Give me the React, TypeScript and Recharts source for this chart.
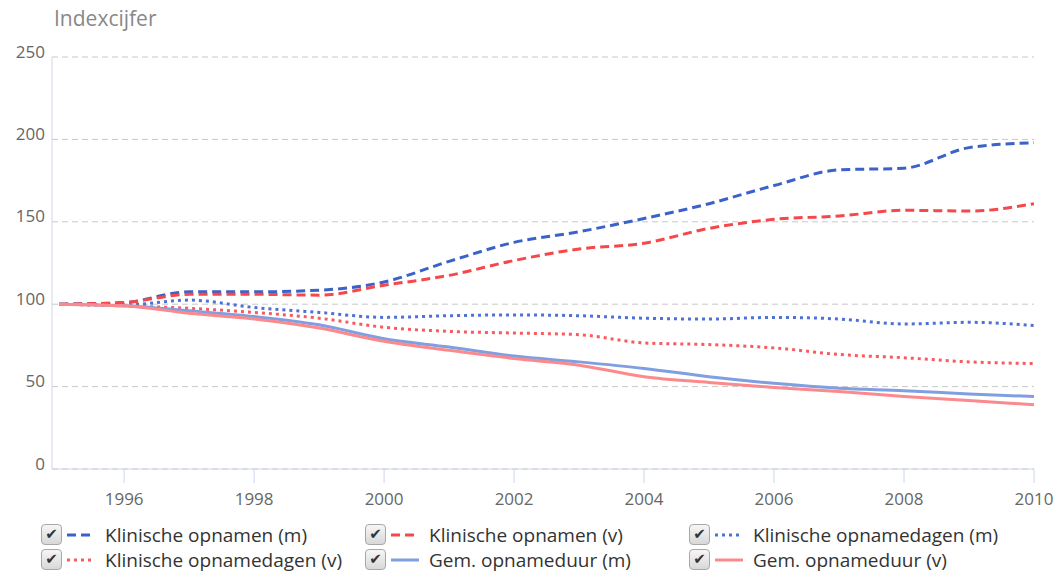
import { CartesianGrid, Legend, Line, LineChart, XAxis, YAxis } from "recharts"

const years = [1995, 1996, 1997, 1998, 1999, 2000, 2001, 2002, 2003, 2004, 2005, 2006, 2007, 2008, 2009, 2010]

const opnamenM = [100, 101, 107.5, 107.5, 108.5, 113.5, 126, 137.5, 144, 152, 161, 172, 181.5, 182.5, 195, 198]
const opnamenV = [100, 101, 106, 106, 105.5, 111.5, 117.5, 126.5, 133.5, 137, 146, 151.5, 153.5, 157, 156.5, 161]
const dagenM = [100, 99.5, 102.5, 98, 95, 92, 93, 93.5, 93, 91.5, 91, 92, 91, 88, 89, 87]
const dagenV = [100, 99, 97.5, 95, 91.5, 86, 83.5, 82.5, 81.5, 76.5, 75.5, 73.5, 69.5, 67.5, 65, 64]
const duurM = [100, 99, 96, 92.5, 87.5, 79, 74, 68.5, 65, 61, 56, 52, 49, 47.5, 45.5, 44]
const duurV = [100, 99, 94.5, 91, 85.5, 77.5, 72, 67, 63, 56, 52.5, 49.5, 47, 44, 41.5, 39]

const xTicks = [1996, 1998, 2000, 2002, 2004, 2006, 2008, 2010]
const yTicks = [0, 50, 100, 150, 200, 250]

const series = [
  { key: "opnamenM", name: "Klinische opnamen (m)", color: "#3a62c8", dash: "9 5", values: opnamenM },
  { key: "opnamenV", name: "Klinische opnamen (v)", color: "#f5484b", dash: "9 5", values: opnamenV },
  { key: "dagenM", name: "Klinische opnamedagen (m)", color: "#4d72d6", dash: "3 4", values: dagenM },
  { key: "dagenV", name: "Klinische opnamedagen (v)", color: "#fa5a5e", dash: "3 4", values: dagenV },
  { key: "duurM", name: "Gem. opnameduur (m)", color: "#809fe0", dash: undefined, values: duurM },
  { key: "duurV", name: "Gem. opnameduur (v)", color: "#fc8a8d", dash: undefined, values: duurV },
]

const data = years.map((year, i) => {
  const row: Record<string, number> = { year }
  series.forEach((s) => {
    row[s.key] = s.values[i]
  })
  return row
})

const font = "'Open Sans', sans-serif"

function YTick({ x, y, payload }: any) {
  return (
    <text x={x} y={y - 6} textAnchor="end" dominantBaseline="central" fill="#666" fontSize={17} fontFamily={font}>
      {payload.value}
    </text>
  )
}

function Swatch({ color, dash }: { color: string; dash?: string }) {
  return (
    <svg width={28} height={10} style={{ margin: "0 10px 0 5px" }}>
      <line x1={0} y1={5} x2={28} y2={5} stroke={color} strokeWidth={3} strokeDasharray={dash} />
    </svg>
  )
}

function Checkbox() {
  return (
    <div
      style={{
        width: 19,
        height: 19,
        border: "1px solid #a8a8a8",
        borderRadius: 4,
        background: "linear-gradient(#f6f6f6, #d8d8d8)",
        display: "flex",
        alignItems: "center",
        justifyContent: "center",
        fontSize: 15,
        color: "#333",
        fontFamily: "'DejaVu Sans', sans-serif",
        lineHeight: 1,
      }}
    >
      ✔
    </div>
  )
}

function LegendContent() {
  return (
    <div
      style={{
        display: "grid",
        gridTemplateColumns: "324px 324px 324px",
        gridAutoRows: "25px",
        paddingLeft: 41,
        paddingTop: 1,
        fontFamily: font,
        fontSize: 19,
        color: "#333",
      }}
    >
      {series.map((s) => (
        <div key={s.key} style={{ display: "flex", alignItems: "center", whiteSpace: "nowrap" }}>
          <Checkbox />
          <Swatch color={s.color} dash={s.dash} />
          <span>{s.name}</span>
        </div>
      ))}
    </div>
  )
}

export default function App() {
  return (
    <div style={{ position: "absolute", left: 0, top: 0, width: 1059, height: 573, background: "#fff" }}>
      <div
        style={{
          position: "absolute",
          left: 54,
          top: 4,
          fontFamily: font,
          fontSize: 21,
          color: "#888",
        }}
      >
        Indexcijfer
      </div>
      <LineChart width={1059} height={573} data={data} margin={{ top: 57, right: 25, bottom: 0, left: 8 }}>
        <CartesianGrid vertical={false} stroke="#c8c8c8" strokeDasharray="6 4" />
        <XAxis
          dataKey="year"
          type="number"
          domain={[1994.89, 2010]}
          ticks={xTicks}
          allowDataOverflow
          height={52}
          tickSize={14}
          tickMargin={10}
          axisLine={{ stroke: "#ccd6eb" }}
          tickLine={{ stroke: "#ccd6eb" }}
          tick={{ fill: "#666", fontSize: 17, fontFamily: font }}
        />
        <YAxis
          domain={[0, 250]}
          ticks={yTicks}
          width={44}
          tickSize={0}
          tickMargin={7}
          axisLine={{ stroke: "#ccd6eb" }}
          tickLine={false}
          tick={<YTick />}
        />
        <Legend verticalAlign="bottom" height={52} wrapperStyle={{ left: 0, width: 1059 }} content={<LegendContent />} />
        {series.map((s) => (
          <Line
            key={s.key}
            dataKey={s.key}
            name={s.name}
            type="monotone"
            stroke={s.color}
            strokeWidth={3}
            strokeDasharray={s.dash}
            dot={false}
            activeDot={false}
            isAnimationActive={false}
          />
        ))}
      </LineChart>
    </div>
  )
}
